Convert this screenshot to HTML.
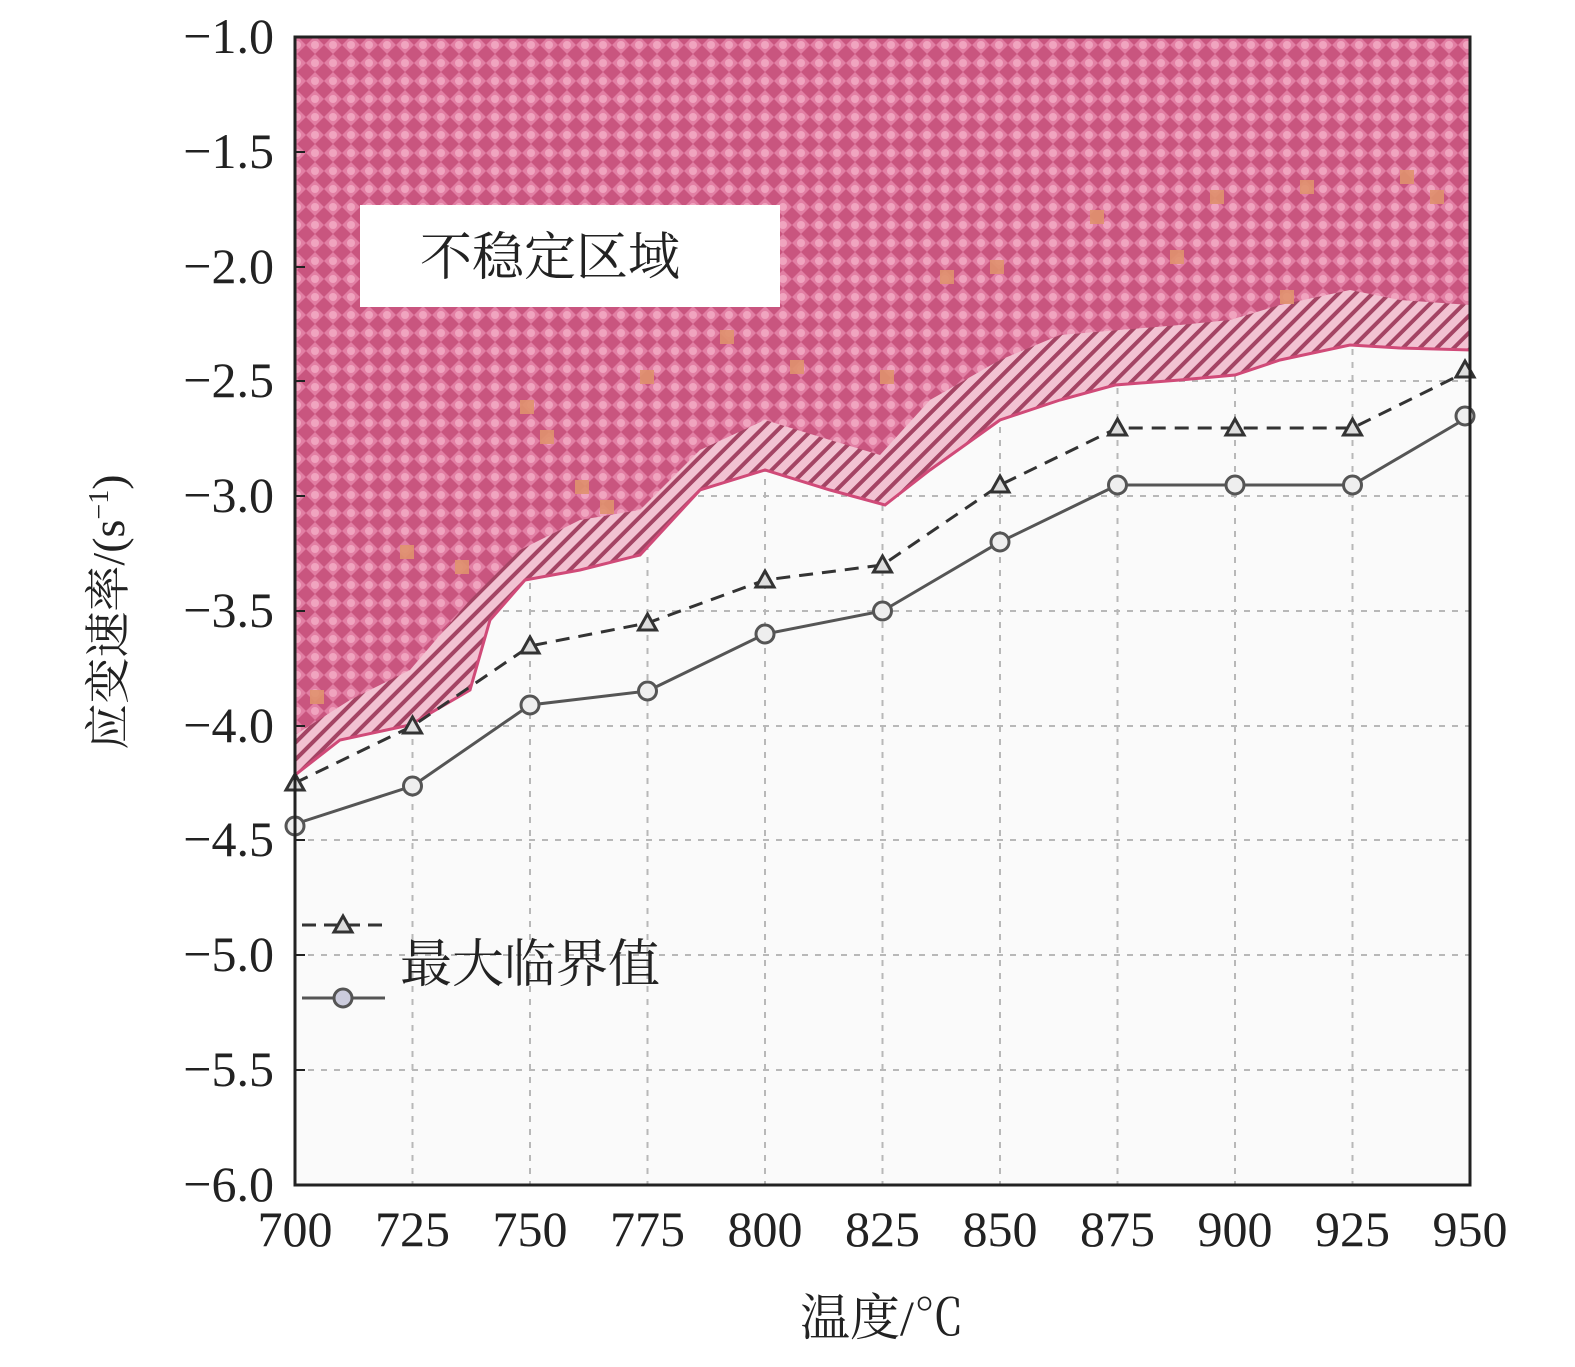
<!DOCTYPE html>
<html><head><meta charset="utf-8"><style>
body{margin:0;background:#fff}
svg text{font-family:"Liberation Serif","Noto Serif CJK SC",serif;fill:#222}
</style></head><body>
<svg width="1575" height="1362" viewBox="0 0 1575 1362" xmlns="http://www.w3.org/2000/svg">
<defs>
<pattern id="cross" width="18" height="18" patternUnits="userSpaceOnUse">
<rect width="18" height="18" fill="#c9557f"/>
<path d="M9 0 L18 9 L9 18 L0 9Z" fill="#e27fa4"/>
<circle cx="9" cy="9" r="4" fill="#f0a4bf"/>
</pattern>
<pattern id="hatch" width="12" height="12" patternUnits="userSpaceOnUse" patternTransform="rotate(45)">
<rect width="12" height="12" fill="#f2c2d2"/>
<rect width="4" height="12" fill="#a44464"/>
</pattern>
</defs>
<rect x="295" y="37" width="1175" height="1148" fill="#fafafa"/>
<g stroke="#b8b8b8" stroke-width="2" stroke-dasharray="6,7">
<line x1="412.5" y1="37" x2="412.5" y2="1185"/><line x1="530" y1="37" x2="530" y2="1185"/><line x1="647.5" y1="37" x2="647.5" y2="1185"/><line x1="765" y1="37" x2="765" y2="1185"/><line x1="882.5" y1="37" x2="882.5" y2="1185"/><line x1="1000" y1="37" x2="1000" y2="1185"/><line x1="1117.5" y1="37" x2="1117.5" y2="1185"/><line x1="1235" y1="37" x2="1235" y2="1185"/><line x1="1352.5" y1="37" x2="1352.5" y2="1185"/>
<line x1="295" y1="152" x2="1470" y2="152"/><line x1="295" y1="267" x2="1470" y2="267"/><line x1="295" y1="381" x2="1470" y2="381"/><line x1="295" y1="496" x2="1470" y2="496"/><line x1="295" y1="611" x2="1470" y2="611"/><line x1="295" y1="726" x2="1470" y2="726"/><line x1="295" y1="840" x2="1470" y2="840"/><line x1="295" y1="955" x2="1470" y2="955"/><line x1="295" y1="1070" x2="1470" y2="1070"/>
</g>
<path d="M295 37 L1470 37 L1470 350 L1400 348 L1350 345 L1280 360 L1235 375 L1180 380 L1115 385 L1060 400 L1000 420 L930 470 L885 505 L830 490 L765 470 L700 490 L640 555 L580 570 L525 580 L490 620 L470 690 L410 725 L340 740 L295 775Z" fill="url(#hatch)" stroke="#d04a78" stroke-width="3"/>
<path d="M295 37 L1470 37 L1470 305 L1400 300 L1350 290 L1280 305 L1230 320 L1180 325 L1120 330 L1060 335 L1000 360 L930 400 L880 455 L830 440 L765 420 L700 450 L640 510 L580 520 L520 550 L470 600 L410 670 L350 700 L295 735Z" fill="url(#cross)"/>
<g fill="#e0926e" opacity="0.9">
<rect x="520" y="400" width="14" height="14"/><rect x="540" y="430" width="14" height="14"/><rect x="575" y="480" width="14" height="14"/><rect x="600" y="500" width="14" height="14"/><rect x="400" y="545" width="14" height="14"/><rect x="455" y="560" width="14" height="14"/><rect x="310" y="690" width="14" height="14"/><rect x="720" y="330" width="14" height="14"/><rect x="790" y="360" width="14" height="14"/><rect x="880" y="370" width="14" height="14"/><rect x="940" y="270" width="14" height="14"/><rect x="990" y="260" width="14" height="14"/><rect x="1090" y="210" width="14" height="14"/><rect x="1170" y="250" width="14" height="14"/><rect x="1280" y="290" width="14" height="14"/><rect x="1300" y="180" width="14" height="14"/><rect x="1400" y="170" width="14" height="14"/><rect x="1430" y="190" width="14" height="14"/><rect x="1210" y="190" width="14" height="14"/><rect x="640" y="370" width="14" height="14"/>
</g>
<rect x="360" y="205" width="420" height="102" fill="#fff"/>
<text x="420" y="275" font-size="52">不稳定区域</text>
<polyline points="295,824 412.5,786 530,705 647.5,691 765,634 882.5,611 1000,542 1117.5,485 1235,485 1352.5,485 1470,416" fill="none" stroke="#555" stroke-width="3"/>
<polyline points="295,783 412.5,726 530,646 647.5,623 765,580 882.5,565 1000,485 1117.5,428 1235,428 1352.5,428 1470,370" fill="none" stroke="#333" stroke-width="3" stroke-dasharray="14,9"/>
<g fill="#eee" stroke="#555" stroke-width="3">
<circle cx="295" cy="826" r="9"/><circle cx="412.5" cy="786" r="9"/><circle cx="530" cy="705" r="9"/><circle cx="647.5" cy="691" r="9"/><circle cx="765" cy="634" r="9"/><circle cx="882.5" cy="611" r="9"/><circle cx="1000" cy="542" r="9"/><circle cx="1117.5" cy="485" r="9"/><circle cx="1235" cy="485" r="9"/><circle cx="1352.5" cy="485" r="9"/><circle cx="1465" cy="416" r="9"/>
</g>
<g fill="#ddd" stroke="#333" stroke-width="3">
<path d="M295 774 l9 16 h-18z"/><path d="M412.5 717 l9 16 h-18z"/><path d="M530 637 l9 16 h-18z"/><path d="M647.5 614 l9 16 h-18z"/><path d="M765 571 l9 16 h-18z"/><path d="M882.5 556 l9 16 h-18z"/><path d="M1000 476 l9 16 h-18z"/><path d="M1117.5 419 l9 16 h-18z"/><path d="M1235 419 l9 16 h-18z"/><path d="M1352.5 419 l9 16 h-18z"/><path d="M1465 361 l9 16 h-18z"/>
</g>
<line x1="302" y1="925" x2="385" y2="925" stroke="#333" stroke-width="3" stroke-dasharray="14,8"/>
<path d="M343 916 l9 16 h-18z" fill="#ddd" stroke="#333" stroke-width="3"/>
<line x1="302" y1="998" x2="385" y2="998" stroke="#555" stroke-width="3"/>
<circle cx="343" cy="998" r="9" fill="#ccd" stroke="#555" stroke-width="3"/>
<text x="400" y="982" font-size="52">最大临界值</text>
<rect x="295" y="37" width="1175" height="1148" fill="none" stroke="#222" stroke-width="3"/>
<g stroke="#222" stroke-width="2">
<line x1="295" y1="152" x2="305" y2="152"/><line x1="295" y1="267" x2="305" y2="267"/><line x1="295" y1="381" x2="305" y2="381"/><line x1="295" y1="496" x2="305" y2="496"/><line x1="295" y1="611" x2="305" y2="611"/><line x1="295" y1="726" x2="305" y2="726"/><line x1="295" y1="840" x2="305" y2="840"/><line x1="295" y1="955" x2="305" y2="955"/><line x1="295" y1="1070" x2="305" y2="1070"/>
</g>
<g font-size="50" text-anchor="end">
<text x="274" y="53">−1.0</text><text x="274" y="168">−1.5</text><text x="274" y="283">−2.0</text><text x="274" y="397">−2.5</text><text x="274" y="512">−3.0</text><text x="274" y="627">−3.5</text><text x="274" y="742">−4.0</text><text x="274" y="856">−4.5</text><text x="274" y="971">−5.0</text><text x="274" y="1086">−5.5</text><text x="274" y="1201">−6.0</text>
</g>
<g font-size="50" text-anchor="middle">
<text x="295" y="1246">700</text><text x="412.5" y="1246">725</text><text x="530" y="1246">750</text><text x="647.5" y="1246">775</text><text x="765" y="1246">800</text><text x="882.5" y="1246">825</text><text x="1000" y="1246">850</text><text x="1117.5" y="1246">875</text><text x="1235" y="1246">900</text><text x="1352.5" y="1246">925</text><text x="1470" y="1246">950</text>
</g>
<text x="882" y="1335" font-size="50" text-anchor="middle">温度/℃</text>
<text transform="translate(124,612) rotate(-90)" font-size="46" text-anchor="middle">应变速率/(s<tspan font-size="28" dy="-16">−1</tspan><tspan dy="16">)</tspan></text>
</svg>
</body></html>
